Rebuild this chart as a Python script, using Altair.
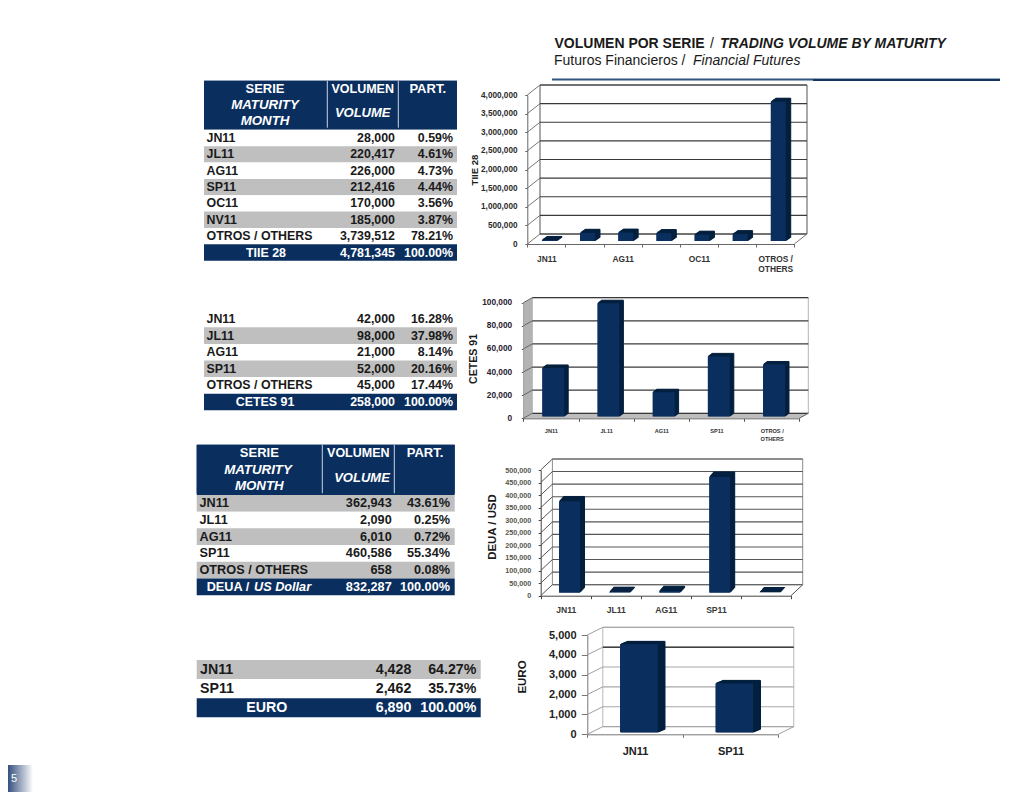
import math
import altair as alt
import pandas as pd

FONT = "Liberation Sans"
NAVY = "#0a2f5f"
SIDE = "#04203f"
INK = "#1a1a1a"

# ---- data ----
t1_months = ["JN11", "JL11", "AG11", "SP11", "OC11", "NV11", "OTROS / OTHERS"]
t1_volume = [28000, 220417, 226000, 212416, 170000, 185000, 3739512]
t1_share = ["0.59%", "4.61%", "4.73%", "4.44%", "3.56%", "3.87%", "78.21%"]
t1_total = ["TIIE 28", "4,781,345", "100.00%"]
t1_ticks = [0, 500000, 1000000, 1500000, 2000000, 2500000, 3000000, 3500000, 4000000]

t2_months = ["JN11", "JL11", "AG11", "SP11", "OTROS / OTHERS"]
t2_volume = [42000, 98000, 21000, 52000, 45000]
t2_share = ["16.28%", "37.98%", "8.14%", "20.16%", "17.44%"]
t2_total = ["CETES 91", "258,000", "100.00%"]
t2_ticks = [0, 20000, 40000, 60000, 80000, 100000]

t3_months = ["JN11", "JL11", "AG11", "SP11", "OTROS / OTHERS"]
t3_volume = [362943, 2090, 6010, 460586, 658]
t3_share = ["43.61%", "0.25%", "0.72%", "55.34%", "0.08%"]
t3_total = ["DEUA / US Dollar", "832,287", "100.00%"]
t3_ticks = [0, 50000, 100000, 150000, 200000, 250000, 300000, 350000, 400000, 450000, 500000]

t4_months = ["JN11", "SP11"]
t4_volume = [4428, 2462]
t4_share = ["64.27%", "35.73%"]
t4_total = ["EURO", "6,890", "100.00%"]
t4_ticks = [0, 1000, 2000, 3000, 4000, 5000]

one = pd.DataFrame({"t": [""]})


def px(v):
    return alt.value(v - 8)


def label(text, x, y, size=12.5, weight="bold", style="normal", color=INK, align="left", angle=0):
    return alt.Chart(pd.DataFrame({"t": [text]})).mark_text(
        font=FONT, fontSize=size, fontWeight=weight, fontStyle=style,
        color=color, align=align, angle=angle, baseline="middle",
    ).encode(x=px(x), y=px(y), text="t:N")


def band(x0, x1, y0, y1, color):
    return alt.Chart(one).mark_rect(color=color).encode(
        x=px(x0), x2=px(x1), y=px(y0), y2=px(y1))


def table(months, volume, share, total, box, rows_y, cols, size, first_shaded, header=None):
    x0, x1 = box
    y0, y1 = rows_y
    head = ["h1", "h2", "h3"] if header else []
    names = head + months + [total[0]]
    kinds = ["head"] * len(head)
    for i, _ in enumerate(months):
        kinds.append("shade" if (i % 2 == 0) == first_shaded else "plain")
    kinds.append("total")
    df = pd.DataFrame({"row": names, "kind": kinds})
    yenc = alt.Y("row:N", sort=None, axis=None, title=None,
                 scale=alt.Scale(type="band", domain=names, range=[y0 - 8, y1 - 8],
                                 paddingInner=0, paddingOuter=0))
    out = [alt.Chart(df).mark_rect().encode(
        x=px(x0), x2=px(x1), y=yenc,
        color=alt.Color("kind:N", legend=None, scale=alt.Scale(
            domain=["head", "plain", "shade", "total"],
            range=[NAVY, "#ffffff", "#bfbfbf", NAVY])))]
    if header:
        out.append(alt.Chart(one).mark_rect(color=NAVY).encode(
            x=px(x0), x2=px(x1), y=px(header[0]), y2=px(header[1])))
    body = pd.DataFrame({"row": months + [total[0]],
                         "vol": [f"{v:,}" for v in volume] + [total[1]],
                         "par": share + [total[2]],
                         "kind": ["body"] * len(months) + ["total"]})
    inkc = alt.Color("kind:N", legend=None, scale=alt.Scale(
        domain=["body", "total"], range=[INK, "#ffffff"]))
    base = dict(font=FONT, fontSize=size, fontWeight="bold", baseline="middle")
    out.append(alt.Chart(body[body.kind == "body"]).mark_text(align="left", **base).encode(
        x=px(cols[0]), y=yenc, text="row:N", color=inkc))
    out.append(alt.Chart(body).mark_text(align="right", **base).encode(
        x=px(cols[1]), y=yenc, text="vol:N", color=inkc))
    out.append(alt.Chart(body).mark_text(align="right", **base).encode(
        x=px(cols[2]), y=yenc, text="par:N", color=inkc))
    return out


def chart3d(cats, values, ticks, front, back, bars, depth, barw, shown, style):
    fl, fr, fy0, fy1 = front      # front plane: left, right, y(0), y(max)
    dx, dy = back                 # shift to the back wall
    bl, br, by0, by1 = bars       # plane holding the bars
    ddx, ddy = depth              # bar depth
    wl, wr = fl + dx, fr + dx
    top = max(ticks)
    out = []
    # back wall
    out.append(alt.Chart(one).mark_rect(fill="white", stroke=style["frame"], strokeWidth=1).encode(
        x=px(wl), x2=px(wr), y=px(fy1 - dy), y2=px(fy0 - dy)))
    if style.get("wallfill"):
        h = fy0 - fy1
        w = fr - fl
        out.append(alt.Chart(one).mark_point(
            shape=f"M0,0 L{dx},{-dy} L{dx},{-dy - h} L0,{-h} Z", size=4, filled=True,
            opacity=1, strokeWidth=0, fill=style["wallfill"]).encode(x=px(fl), y=px(fy0)))
        out.append(alt.Chart(one).mark_point(
            shape=f"M0,0 L{dx},{-dy} L{w + dx},{-dy} L{w},0 Z", size=4, filled=True,
            opacity=1, strokeWidth=0, fill=style["floorfill"]).encode(x=px(fl), y=px(fy0)))
    tdf = pd.DataFrame({"v": ticks})
    # grid on back wall
    gscale = alt.Scale(domain=[0, top], range=[fy0 - dy - 8, fy1 - dy - 8], nice=False)
    out.append(alt.Chart(tdf).mark_rule(color=style["grid"], strokeWidth=style["gridw"]).encode(
        x=px(wl), x2=px(wr), y=alt.Y("v:Q", scale=gscale, axis=None)))
    if style.get("strong"):
        out.append(alt.Chart(pd.DataFrame({"v": style["strong"]})).mark_rule(
            color="#000000", strokeWidth=1).encode(
            x=px(wl), x2=px(wr), y=alt.Y("v:Q", scale=gscale, axis=None)))
    # left-wall diagonals, with the value axis
    yscale = alt.Scale(domain=[0, top], range=[fy0 - 8, fy1 - 8], nice=False)
    out.append(alt.Chart(tdf).mark_rule(color=style["diag"], strokeWidth=1, y2Offset=-dy).encode(
        x=px(fl), x2=px(wl),
        y=alt.Y("v:Q", scale=yscale, axis=alt.Axis(
            orient="left", offset=-(fl - 8), values=ticks, format=",.0f", title=None, grid=False,
            domain=True, domainColor=style["axis"], ticks=True, tickColor=style["axis"],
            tickSize=style["ytick"], labelPadding=fl - style["ytick"] - style["yright"],
            labelFont=FONT, labelFontWeight="bold", labelFontSize=style["ysize"],
            labelColor=style["ycolor"], labelOverlap=False, labelFlush=False, labelBound=False)),
        y2=alt.Y2("v")))
    # right floor edge
    out.append(alt.Chart(one).mark_rule(color=style["diag"], strokeWidth=1).encode(
        x=px(fr), x2=px(wr), y=px(fy0), y2=px(fy0 - dy)))
    # category axis
    shown_js = ",".join(f"'{c}'" for c in shown)
    expr = (f"indexof([{shown_js}], datum.label) < 0 ? '' : "
            "datum.label == 'OTROS / OTHERS' ? ['OTROS /', 'OTHERS'] : datum.label")
    out.append(alt.Chart(pd.DataFrame({"c": cats})).mark_point(opacity=0).encode(
        x=alt.X("c:N", sort=None, title=None,
                scale=alt.Scale(type="band", domain=cats, range=[fl - 8, fr - 8],
                                paddingInner=0, paddingOuter=0),
                axis=alt.Axis(
                    orient="bottom", offset=fy0 - 8 - 784, title=None, grid=False,
                    domain=True, domainColor=style["axis"], tickColor=style["axis"],
                    tickBand="extent", tickSize=3, labelAngle=0, labelAlign="center",
                    labelBaseline="top", labelPadding=style["xpad"], labelExpr=expr,
                    labelFont=FONT, labelFontWeight="bold", labelFontSize=style["xsize"],
                    labelLineHeight=style["xline"], labelColor=style["xcolor"],
                    labelOverlap=False, labelFlush=False, labelBound=False, labelLimit=200)),
        y=alt.value(0)))
    # bars
    bdf = pd.DataFrame({"c": cats, "v": values})
    bx = alt.X("c:N", sort=None, axis=None,
               scale=alt.Scale(type="band", domain=cats, range=[bl - 8, br - 8],
                               paddingInner=0, paddingOuter=0))
    by = alt.Y("v:Q", axis=None, scale=alt.Scale(domain=[0, top], range=[by0 - 8, by1 - 8], nice=False))
    n = math.ceil(max(ddx, ddy))
    for k in range(n, 0, -1):
        ox, oy = ddx * k / n, -ddy * k / n
        out.append(alt.Chart(bdf).mark_bar(
            width=barw, color=SIDE, stroke=SIDE, strokeWidth=1,
            xOffset=ox, yOffset=oy, y2Offset=oy).encode(x=bx, y=by))
    out.append(alt.Chart(bdf).mark_bar(width=barw, color=NAVY).encode(x=bx, y=by))
    return out


layers = []

# page heading
layers += [
    label("VOLUMEN POR SERIE", 554.5, 44, size=14),
    label("/", 710, 44, size=14, weight="normal"),
    label("TRADING VOLUME BY MATURITY", 720, 44, size=14, style="italic"),
    label("Futuros Financieros /", 554, 61, size=14, weight="normal"),
    label("Financial Futures", 693, 61, size=14, weight="normal", style="italic"),
]

# tables
layers += table(t1_months, t1_volume, t1_share, t1_total, (204, 457), (80.7, 260.7),
                (206.5, 395, 453), 12.4, False, header=(80.7, 128))
for xs in (327.3, 398.3):
    layers.append(alt.Chart(one).mark_rule(color="#c9d4e2", strokeWidth=1).encode(
        x=px(xs), y=px(80.7), y2=px(127.7)))
layers += [
    label("SERIE", 265, 89, size=13, color="white", align="center"),
    label("MATURITY", 265, 105.3, size=13.3, color="white", align="center", style="italic"),
    label("MONTH", 265, 121, size=13.3, color="white", align="center", style="italic"),
    label("VOLUMEN", 362.7, 89, color="white", align="center"),
    label("VOLUME", 362.7, 113.3, size=13, color="white", align="center", style="italic"),
    label("PART.", 427.7, 89, size=13, color="white", align="center"),
    label(t1_total[0], 266, 252.5, size=12.4, color="white", align="center"),
]
layers += table(t2_months, t2_volume, t2_share, t2_total, (204, 457), (310.7, 410.3),
                (206.5, 395, 453), 12.4, False)
layers.append(label(t2_total[0], 265, 402.2, size=12.4, color="white", align="center"))
layers += table(t3_months, t3_volume, t3_share, t3_total, (196.7, 454.7), (444.7, 595.3),
                (199.5, 391.7, 450), 12.7, True, header=(444.7, 493.6))
for xs in (322.3, 394.3):
    layers.append(alt.Chart(one).mark_rule(color="#c9d4e2", strokeWidth=1).encode(
        x=px(xs), y=px(444.7), y2=px(493.3)))
layers += [
    label("SERIE", 259.3, 453.3, size=13, color="white", align="center"),
    label("MATURITY", 258, 470, size=13.3, color="white", align="center", style="italic"),
    label("MONTH", 259.3, 486, size=13.3, color="white", align="center", style="italic"),
    label("VOLUMEN", 358.3, 453.3, color="white", align="center"),
    label("VOLUME", 362, 478, size=13, color="white", align="center", style="italic"),
    label("PART.", 425, 453.3, size=13, color="white", align="center"),
    label("DEUA /", 206.7, 587, size=12.7, color="white"),
    label("US Dollar", 254, 587, size=12.7, color="white", style="italic"),
]
layers += table(t4_months, t4_volume, t4_share, t4_total, (196.7, 480.7), (660, 717.3),
                (200, 411.3, 476.3), 14.2, True)
layers.append(label(t4_total[0], 266.7, 708, size=14.2, color="white", align="center"))

# bar panels
layers += chart3d(
    t1_months, t1_volume, t1_ticks, (527.3, 794.3, 244, 95), (12.7, 10), (530.3, 797.3, 241, 92),
    (5, 3.5), 15, ["JN11", "AG11", "OC11", "OTROS / OTHERS"],
    dict(frame="#555555", grid="#3a3a3a", gridw=1.2, diag="#777777", axis="#666666", ytick=2.5,
         yright=517, ysize=8.2, ycolor="#2b2b2b", xpad=7, xsize=8.4, xline=10, xcolor="#333333"))
layers.append(label("TIIE 28", 475, 170, size=9.6, angle=270, align="center"))

layers += chart3d(
    t2_months, t2_volume, t2_ticks, (523.3, 799.3, 418.3, 302.7), (9, 5), (525.6, 801.6, 416.5, 300.9),
    (4, 3), 22, t2_months,
    dict(frame="#b5b5b5", grid="#3a3a3a", gridw=1.3, diag="#666666", axis="#555555", ytick=2,
         yright=511.7, ysize=8.3, ycolor="#2a2030", xpad=7.4, xsize=5.6, xline=7.5, xcolor="#333333",
         wallfill="#b3b3b3", floorfill="#bdbdbd"))
layers.append(label("CETES 91", 474, 359, size=10.6, angle=270, align="center"))

layers += chart3d(
    t3_months, t3_volume, t3_ticks, (540.7, 791, 595.7, 470), (11.7, 11), (544.5, 794.8, 592.7, 467),
    (4.5, 5), 21, ["JN11", "JL11", "AG11", "SP11"],
    dict(frame="#8c8c8c", grid="#555555", gridw=1.1, diag="#555555", axis="#444444", ytick=2.5,
         yright=530.7, ysize=7.2, ycolor="#56564e", xpad=7, xsize=8.6, xline=10, xcolor="#3a3a3a"))
layers.append(label("DEUA / USD", 493, 527, size=11.4, angle=270, align="center"))

layers += chart3d(
    t4_months, t4_volume, t4_ticks, (587.3, 778.3, 734.3, 635), (15.5, 7.7), (591.1, 782.1, 732.3, 633),
    (7.3, 3), 37.7, t4_months,
    dict(frame="#b8b8b8", grid="#a8a8a8", gridw=1.2, diag="#a0a0a0", axis="#777777", ytick=6,
         yright=576, ysize=11, ycolor="#222222", xpad=8, xsize=11, xline=12, xcolor="#222222",
         strong=[4000]))
layers.append(label("EURO", 523, 677, size=11.5, angle=270, align="center"))

# heading rule, drawn over everything: thin over its whole run, thicker on the right
layers += [
    band(552, 1000, 78.5, 80.5, "#2f5580"),
    band(813, 1000, 79, 81, "#14355f"),
]

# page number tab
layers.append(alt.Chart(one).mark_rect(color=alt.Gradient(
    gradient="linear", x1=0, x2=1, y1=0, y2=0,
    stops=[alt.GradientStop(offset=0, color="#35507f"),
           alt.GradientStop(offset=1, color="#ffffff")])).encode(
    x=px(8), x2=px(33), y=px(765), y2=px(792)))
layers.append(label("5", 11, 779, size=11, weight="normal", color="white"))

chart = alt.layer(*layers).resolve_scale(
    x="independent", y="independent", color="independent"
).properties(
    width=1008, height=784, padding=0,
    autosize=alt.AutoSizeParams(type="none"), background="white",
).configure_view(stroke=None)

chart.save("out.html", embed_options={"renderer": "svg", "actions": False})
